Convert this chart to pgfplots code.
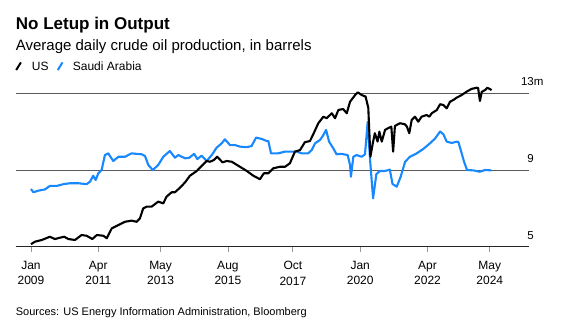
\documentclass[border=0pt]{standalone}
\usepackage{pgfplots}
\pgfplotsset{compat=1.18}
\usepackage{fontspec}
\setmainfont{Liberation Sans}
\definecolor{sablue}{RGB}{24,136,255}
\definecolor{gridgray}{RGB}{90,90,90}
\begin{document}
\begin{tikzpicture}
\useasboundingbox (0pt,0pt) rectangle (567pt,333pt);
\node[anchor=base west, inner sep=0pt, font=\fontsize{17}{20}\selectfont\bfseries] at (15.7pt,304pt) {No Letup in Output};
\node[anchor=base west, inner sep=0pt, font=\fontsize{15}{18}\selectfont] at (15.7pt,282.3pt) {Average daily crude oil production, in barrels};
\draw[black, line width=2pt] (16.2pt,263pt) -- (20.9pt,270.6pt);
\node[anchor=base west, inner sep=0pt, font=\fontsize{12}{14}\selectfont] at (31.7pt,262.3pt) {US};
\draw[sablue, line width=2pt] (57.8pt,263pt) -- (62.5pt,270.6pt);
\node[anchor=base west, inner sep=0pt, font=\fontsize{12}{14}\selectfont] at (72.7pt,262.3pt) {Saudi Arabia};
\node[anchor=base west, inner sep=0pt, font=\fontsize{11}{13}\selectfont] at (15.7pt,17.3pt) {Sources: US Energy Information Administration, Bloomberg};
\begin{axis}[
  at={(15.7pt,86.3pt)}, anchor=south west,
  scale only axis, width=513.3pt, height=153.4pt,
  xmin=2008.489, xmax=2025.64, ymin=5, ymax=13,
  clip=false,
  axis x line*=bottom, axis y line*=right,
  x axis line style={-, draw=black!85, line width=0.9pt},
  y axis line style={draw=none},
  xtick={2009,2011.25,2013.33,2015.58,2017.75,2020,2022.25,2024.33},
  xticklabels={Jan\\2009,Apr\\2011,May\\2013,Aug\\2015,Oct\\2017,Jan\\2020,Apr\\2022,May\\2024},
  xticklabel style={align=center, anchor=north, inner sep=0pt, yshift=-9pt, font=\fontsize{12}{15.8}\selectfont},
  tick align=outside, major tick length=5pt,
  xtick style={draw=gray!80, line width=0.8pt},
  ytick={5,9,13}, yticklabels={5,9,13\rlap{m}},
  ytick style={draw=none},
  yticklabel style={anchor=base east, inner sep=0pt, yshift=7.5pt, xshift=0pt, font=\fontsize{11.5}{13}\selectfont},
  ymajorgrids, grid style={gridgray, line width=0.9pt},
]
\addplot[sablue, line width=2.1pt, line join=round] coordinates {
(2009.00,8.01)(2009.08,7.84)(2009.24,7.92)(2009.47,7.99)(2009.63,8.17)(2009.86,8.17)
(2010.08,8.26)(2010.30,8.31)(2010.58,8.31)(2010.86,8.26)(2010.97,8.39)(2011.08,8.70)
(2011.16,8.48)(2011.25,8.83)(2011.36,9.00)(2011.47,9.78)(2011.58,9.87)(2011.75,9.47)
(2011.92,9.69)(2012.14,9.69)(2012.36,9.87)(2012.53,9.84)(2012.70,9.82)(2012.81,9.73)
(2012.92,9.26)(2013.07,9.00)(2013.25,9.26)(2013.42,9.69)(2013.64,9.99)(2013.81,9.64)
(2013.92,9.78)(2014.15,9.61)(2014.29,9.64)(2014.45,9.84)(2014.56,9.57)(2014.70,9.75)
(2014.87,9.47)(2015.04,9.78)(2015.20,10.16)(2015.37,10.39)(2015.48,10.60)(2015.65,10.30)
(2015.82,10.30)(2015.98,10.22)(2016.21,10.19)(2016.37,10.25)(2016.52,10.69)(2016.71,10.62)
(2016.88,10.51)(2016.93,10.51)(2017.02,9.87)(2017.26,9.87)(2017.49,9.96)(2017.71,9.96)
(2017.88,9.96)(2018.04,9.87)(2018.26,9.87)(2018.38,10.04)(2018.49,10.39)(2018.66,10.57)
(2018.77,10.83)(2018.86,11.09)(2018.96,10.48)(2019.10,10.13)(2019.21,9.82)(2019.38,9.84)
(2019.58,9.78)(2019.66,9.26)(2019.69,8.65)(2019.77,9.69)(2019.88,9.78)(2020.05,9.69)
(2020.16,9.82)(2020.25,11.52)(2020.33,9.52)(2020.43,7.52)(2020.54,8.79)(2020.66,8.95)
(2020.83,8.95)(2020.99,9.02)(2021.08,8.27)(2021.22,8.13)(2021.35,8.64)(2021.50,9.43)
(2021.66,9.69)(2021.89,9.87)(2022.11,10.10)(2022.33,10.39)(2022.50,10.64)(2022.67,11.01)
(2022.78,10.86)(2022.89,10.48)(2023.06,10.41)(2023.22,10.48)(2023.28,10.46)(2023.39,9.87)
(2023.47,9.43)(2023.57,9.00)(2023.78,8.98)(2024.00,8.91)(2024.17,9.00)(2024.39,8.98)
};
\addplot[black, line width=2.1pt, line join=round] coordinates {
(2009.00,5.13)(2009.13,5.26)(2009.36,5.35)(2009.63,5.52)(2009.80,5.40)(2009.97,5.47)
(2010.11,5.52)(2010.25,5.40)(2010.47,5.35)(2010.69,5.61)(2010.86,5.57)(2011.05,5.40)
(2011.20,5.61)(2011.42,5.57)(2011.53,5.44)(2011.70,5.96)(2011.92,6.13)(2012.14,6.30)
(2012.36,6.36)(2012.53,6.30)(2012.64,6.48)(2012.75,7.00)(2012.87,7.09)(2013.03,7.09)
(2013.25,7.35)(2013.42,7.26)(2013.53,7.61)(2013.70,7.84)(2013.81,7.84)(2013.98,8.08)
(2014.15,8.36)(2014.31,8.70)(2014.54,8.95)(2014.70,9.21)(2014.87,9.47)(2014.98,9.43)
(2015.11,9.52)(2015.22,9.69)(2015.40,9.40)(2015.54,9.47)(2015.71,9.43)(2015.98,9.17)
(2016.21,8.95)(2016.43,8.70)(2016.65,8.52)(2016.78,8.83)(2016.93,8.83)(2017.10,9.09)
(2017.32,9.17)(2017.49,9.17)(2017.65,9.35)(2017.82,9.96)(2017.99,10.04)(2018.15,10.45)
(2018.32,10.51)(2018.43,10.86)(2018.60,11.44)(2018.77,11.78)(2018.88,11.70)(2019.05,11.96)
(2019.16,11.70)(2019.27,12.13)(2019.43,12.18)(2019.55,11.96)(2019.66,12.56)(2019.83,12.91)
(2019.92,13.05)(2020.05,12.91)(2020.18,12.83)(2020.27,12.24)(2020.34,9.69)(2020.42,10.39)
(2020.49,10.92)(2020.58,10.48)(2020.64,11.00)(2020.72,10.48)(2020.83,11.09)(2020.93,11.18)
(2021.04,11.26)(2021.10,9.96)(2021.16,11.30)(2021.33,11.44)(2021.50,11.38)(2021.56,11.26)
(2021.64,10.92)(2021.72,11.61)(2021.83,11.78)(2021.94,11.52)(2022.05,11.78)(2022.22,11.87)
(2022.31,11.78)(2022.39,11.96)(2022.56,12.13)(2022.67,12.43)(2022.78,12.39)(2022.89,12.22)
(2023.00,12.56)(2023.11,12.65)(2023.22,12.77)(2023.39,12.91)(2023.56,13.09)(2023.72,13.23)
(2023.89,13.29)(2023.94,13.28)(2024.00,12.60)(2024.06,13.07)(2024.17,13.17)(2024.25,13.29)
(2024.39,13.17)
};
\end{axis}
\end{tikzpicture}
\end{document}
